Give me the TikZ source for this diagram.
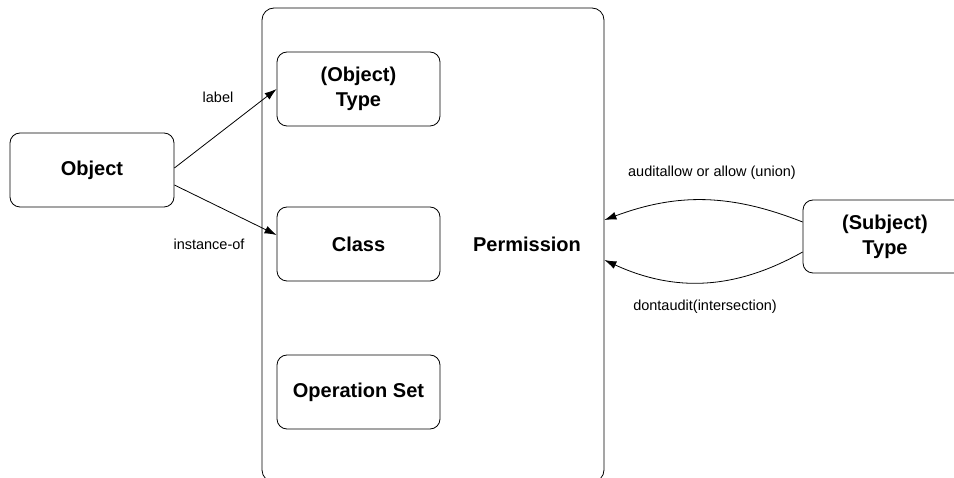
\documentclass[tikz,border=0pt]{standalone}
\usepackage{fontspec}
\setmainfont{Liberation Sans}
\usetikzlibrary{arrows.meta}

\begin{document}
\begin{tikzpicture}[
        x=1pt, y=-1pt,
        node box/.style = {rectangle, rounded corners=10pt, draw, line width=0.8pt, minimum width=163pt, minimum height=74pt, align=center, font=\fontsize{20}{25}\selectfont\bfseries},
        node big/.style = {rectangle, rounded corners=12pt, draw, line width=0.8pt, minimum width=342pt, minimum height=474pt, inner sep=0pt},
        node text/.style = {font=\fontsize{20}{25}\selectfont\bfseries},
        edge label/.style = {font=\fontsize{14.5}{17}\selectfont},
        edge arrow/.style = {line width=0.8pt, -{Latex[length=12pt, width=8pt]}},
        ]
        \useasboundingbox (0,0) rectangle (954,478);

        % Outer permission box
        \node[node big] (perm) at (433,245) {};
        \node[node text] (permtext) at (527,244) {Permission};

        % Left side
        \node[node box, minimum width=164pt] (obj) at (92,170) {Object};

        % Inner boxes
        \node[node box] (otype) at (358.5,89) {(Object)\\Type};
        \node[node box] (cls) at (358.5,244) {Class};
        \node[node box] (opset) at (358.5,392) {Operation Set};

        % Right side
        \node[node box, minimum width=164pt, minimum height=73pt] (stype) at (885,236.5) {(Subject)\\Type};

        % Edges from Object
        \draw[edge arrow] ([yshift=2pt]obj.east) -- (otype.west);
        \draw[edge arrow] ([yshift=-15pt]obj.east) -- ([yshift=9pt]cls.west);
        \node[edge label] (lbllabel) at (218,97) {label};
        \node[edge label] (lblinst) at (209,244) {instance-of};

        % Edges from Subject Type
        \draw[edge arrow] ([yshift=14.5pt]stype.west) to[bend right=21] ([yshift=25pt]perm.east);
        \draw[edge arrow] ([yshift=-15.5pt]stype.west) to[bend left=27] ([yshift=-15pt]perm.east);
        \node[edge label] (lblallow) at (712,173) {auditallow or allow (union)};
        \node[edge label] (lbldont) at (705,307) {dontaudit(intersection)};
    \end{tikzpicture}
\end{document}
